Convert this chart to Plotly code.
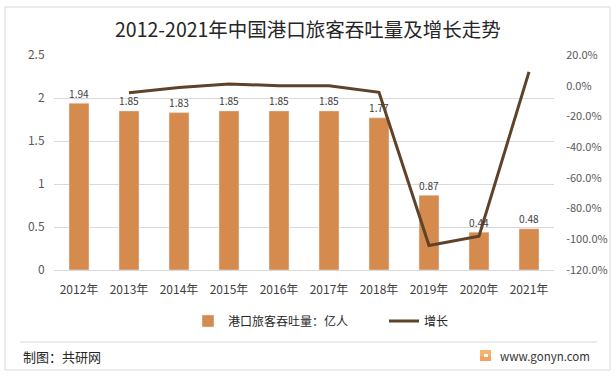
import plotly.graph_objects as go

# ---- data ----
years = ["2012年", "2013年", "2014年", "2015年", "2016年", "2017年", "2018年", "2019年", "2020年", "2021年"]
throughput = [1.94, 1.85, 1.83, 1.85, 1.85, 1.85, 1.77, 0.87, 0.44, 0.48]
growth_years = years[1:]
growth = [-0.046, -0.011, 0.011, 0.0, 0.0, -0.043, -1.04, -0.98, 0.09]
left_ticks = [0, 0.5, 1, 1.5, 2, 2.5]
left_ticktext = ["0", "0.5", "1", "1.5", "2", "2.5"]
right_ticks = [-1.2, -1.0, -0.8, -0.6, -0.4, -0.2, 0.0, 0.2]
right_ticktext = ["-120.0%", "-100.0%", "-80.0%", "-60.0%", "-40.0%", "-20.0%", "0.0%", "20.0%"]
title_text = "2012-2021年中国港口旅客吞吐量及增长走势"
bar_name = "港口旅客吞吐量：亿人"
line_name = "增长"
source_text = "制图：共研网"
site_text = "www.gonyn.com"

FONT = "Noto Sans CJK SC, Noto Sans, sans-serif"
W, H = 616, 378
L, R, T, B = 54, 62, 55, 108
PW, PH = W - L - R, H - T - B


def px(x):
    return (x - L) / PW


def py(y):
    return (H - B - y) / PH


fig = go.Figure()
fig.add_trace(go.Bar(
    x=years, y=throughput, name=bar_name,
    marker=dict(color="#D58B4E"), width=0.4,
    text=[f"{v:.2f}" for v in throughput], textposition="outside",
    textfont=dict(size=12, color="#404040", family=FONT),
    cliponaxis=False,
))
fig.add_trace(go.Scatter(
    x=growth_years, y=growth, name=line_name, yaxis="y2",
    mode="lines", line=dict(color="#5E4229", width=3),
))

fig.update_layout(
    width=W, height=H,
    margin=dict(l=L, r=R, t=T, b=B, autoexpand=False),
    paper_bgcolor="white", plot_bgcolor="white",
    font=dict(family=FONT, size=11, color="#595959"),
    showlegend=True,
    legend=dict(orientation="h", x=px(188), xanchor="left", y=py(321), yanchor="middle",
                font=dict(size=12, color="#262626"), traceorder="normal",
                itemwidth=30, entrywidth=151, bgcolor="rgba(0,0,0,0)"),
    bargap=0.6,
    xaxis=dict(showgrid=False, showline=True, linecolor="#D9D9D9", linewidth=1,
               ticks="outside", ticklen=9, tickcolor="rgba(0,0,0,0)",
               tickfont=dict(size=12, color="#404040"),
               fixedrange=True, automargin=False),
    yaxis=dict(range=[0, 2.5], tickvals=left_ticks, ticktext=left_ticktext,
               showgrid=True, gridcolor="#D9D9D9", gridwidth=1, zeroline=False,
               showline=False, ticks="outside", ticklen=6, tickcolor="rgba(0,0,0,0)",
               automargin=False, tickfont=dict(size=12, color="#595959")),
    yaxis2=dict(range=[-1.2, 0.2], tickvals=right_ticks, ticktext=right_ticktext,
                overlaying="y", side="right", showgrid=False, zeroline=False,
                showline=False, ticks="outside", ticklen=9, tickcolor="rgba(0,0,0,0)",
                automargin=False, tickfont=dict(size=11, color="#595959")),
    shapes=[
        dict(type="rect", xref="paper", yref="paper", x0=px(5), x1=px(610), y0=py(370), y1=py(7),
             line=dict(color="#D9D9D9", width=1), layer="below"),
        dict(type="line", xref="paper", yref="paper", x0=px(20), x1=px(597), y0=py(342), y1=py(342),
             line=dict(color="#D9D9D9", width=1)),
        dict(type="rect", xref="paper", yref="paper", x0=px(480), x1=px(491), y0=py(361), y1=py(350),
             line=dict(width=0), fillcolor="#F6A25E"),
        dict(type="rect", xref="paper", yref="paper", x0=px(480), x1=px(491), y0=py(356), y1=py(350),
             line=dict(width=0), fillcolor="#F4B66F"),
        dict(type="rect", xref="paper", yref="paper", x0=px(484), x1=px(488), y0=py(357), y1=py(354),
             line=dict(width=0), fillcolor="white"),
    ],
    annotations=[
        dict(text=title_text, xref="paper", yref="paper", x=px(308), y=py(28),
             xanchor="center", yanchor="middle", showarrow=False,
             font=dict(size=19.5, color="#262626", family=FONT)),
        dict(text=source_text, xref="paper", yref="paper", x=px(21), y=py(356),
             xanchor="left", yanchor="middle", showarrow=False,
             font=dict(size=13, color="#262626", family=FONT)),
        dict(text=site_text, xref="paper", yref="paper", x=px(592), y=py(356),
             xanchor="right", yanchor="middle", showarrow=False,
             font=dict(size=11.5, color="#333333", family=FONT)),
    ],
)

fig.write_html("out.html", config={"displayModeBar": False},
               post_script="document.body.style.margin='0';")
